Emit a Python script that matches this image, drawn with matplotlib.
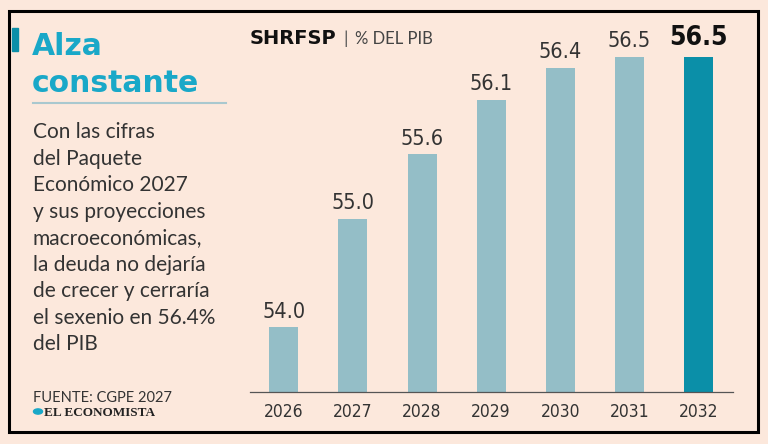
import matplotlib
matplotlib.use("Agg")
import matplotlib.pyplot as plt
from matplotlib.patches import Rectangle, Circle

# chart data
years = ["2026", "2027", "2028", "2029", "2030", "2031", "2032"]
values = [54.0, 55.0, 55.6, 56.1, 56.4, 56.5, 56.5]
value_labels = ["54.0", "55.0", "55.6", "56.1", "56.4", "56.5", "56.5"]
highlight_year = "2032"

body_lines = [
    "Con las cifras",
    "del Paquete",
    "Económico 2027",
    "y sus proyecciones",
    "macroeconómicas,",
    "la deuda no dejaría",
    "de crecer y cerraría",
    "el sexenio en 56.4%",
    "del PIB",
]

BG = "#fce8dc"
BAR = "#94bec7"
BAR_HI = "#0b8fa8"
TEAL = "#19a8c8"
TEXT = "#333333"
SANS = ["Lato", "DejaVu Sans"]

W, H = 768, 444


def fx(px):
    return px / W


def fy(py):
    return 1 - py / H


fig = plt.figure(figsize=(W / 100, H / 100), dpi=100)
fig.patch.set_facecolor(BG)

# bar chart
ax = fig.add_axes([fx(250), fy(392), (733 - 250) / W, (392 - 20) / H])
ax.set_facecolor("none")
xpos = range(len(years))
colors = [BAR_HI if y == highlight_year else BAR for y in years]
ax.bar(xpos, values, width=0.42, color=colors)
ax.set_xlim(-0.49, 6.5)
ax.set_ylim(53.4, 56.84)

for i, (v, lab, yr) in enumerate(zip(values, value_labels, years)):
    if yr == highlight_year:
        ax.annotate(lab, (i, v), xytext=(0, 4), textcoords="offset points",
                    ha="center", va="bottom", fontsize=19, fontweight="bold",
                    family="DejaVu Sans", stretch="condensed", color="#111111")
    else:
        ax.annotate(lab, (i, v), xytext=(0, 4), textcoords="offset points",
                    ha="center", va="bottom", fontsize=15.5,
                    family="DejaVu Sans", stretch="condensed", color=TEXT)

for s in ["left", "right", "top"]:
    ax.spines[s].set_visible(False)
ax.spines["bottom"].set_color("#555555")
ax.spines["bottom"].set_linewidth(0.9)
ax.set_yticks([])
ax.set_xticks(list(xpos))
ax.set_xticklabels(years, family="DejaVu Sans", stretch="condensed",
                   fontsize=12.5, color=TEXT)
ax.tick_params(axis="x", length=0, pad=8)

# chart heading
fig.text(fx(250), fy(39), "SHRFSP", fontsize=14, fontweight="bold",
         family="DejaVu Sans", color="#111111", va="center")
fig.text(fx(343), fy(39), "|", fontsize=13, family=SANS, color="#555555",
         va="center")
fig.text(fx(355), fy(39), "% DEL PIB", fontsize=12, family=SANS,
         color="#444444", va="center")

# left panel
fig.add_artist(Rectangle((fx(12), fy(51)), 6 / W, 23 / H, color=BAR_HI,
                         transform=fig.transFigure))
fig.text(fx(32), fy(55), "Alza", fontsize=21.5, fontweight="bold",
         family="DejaVu Sans", color=TEAL, va="baseline")
fig.text(fx(32), fy(92), "constante", fontsize=21.5, fontweight="bold",
         family="DejaVu Sans", color=TEAL, va="baseline")
fig.add_artist(plt.Line2D([fx(33), fx(226)], [fy(103), fy(103)],
                          color="#a9c8cf", lw=1.5, transform=fig.transFigure))

for i, line in enumerate(body_lines):
    fig.text(fx(33), fy(138 + i * 26.5), line, fontsize=15, family=SANS,
             color=TEXT, va="baseline")

fig.text(fx(33), fy(402), "FUENTE: CGPE 2027", fontsize=10.5, family=SANS,
         color=TEXT, va="baseline")
fig.add_artist(Circle((fx(38), fy(411.5)), 4.5 / W, color=TEAL,
                      transform=fig.transFigure))
fig.text(fx(44), fy(416), "EL ECONOMISTA", fontsize=9.5, fontweight="bold",
         family=["Liberation Serif", "DejaVu Serif"], color="#222222",
         va="baseline")

# frame
fig.add_artist(Rectangle((fx(9), fy(432)), (758 - 9) / W, (432 - 11) / H,
                         fill=False, ec="black", lw=2.2,
                         transform=fig.transFigure))

fig.savefig("out.png", dpi=100, facecolor=BG)
